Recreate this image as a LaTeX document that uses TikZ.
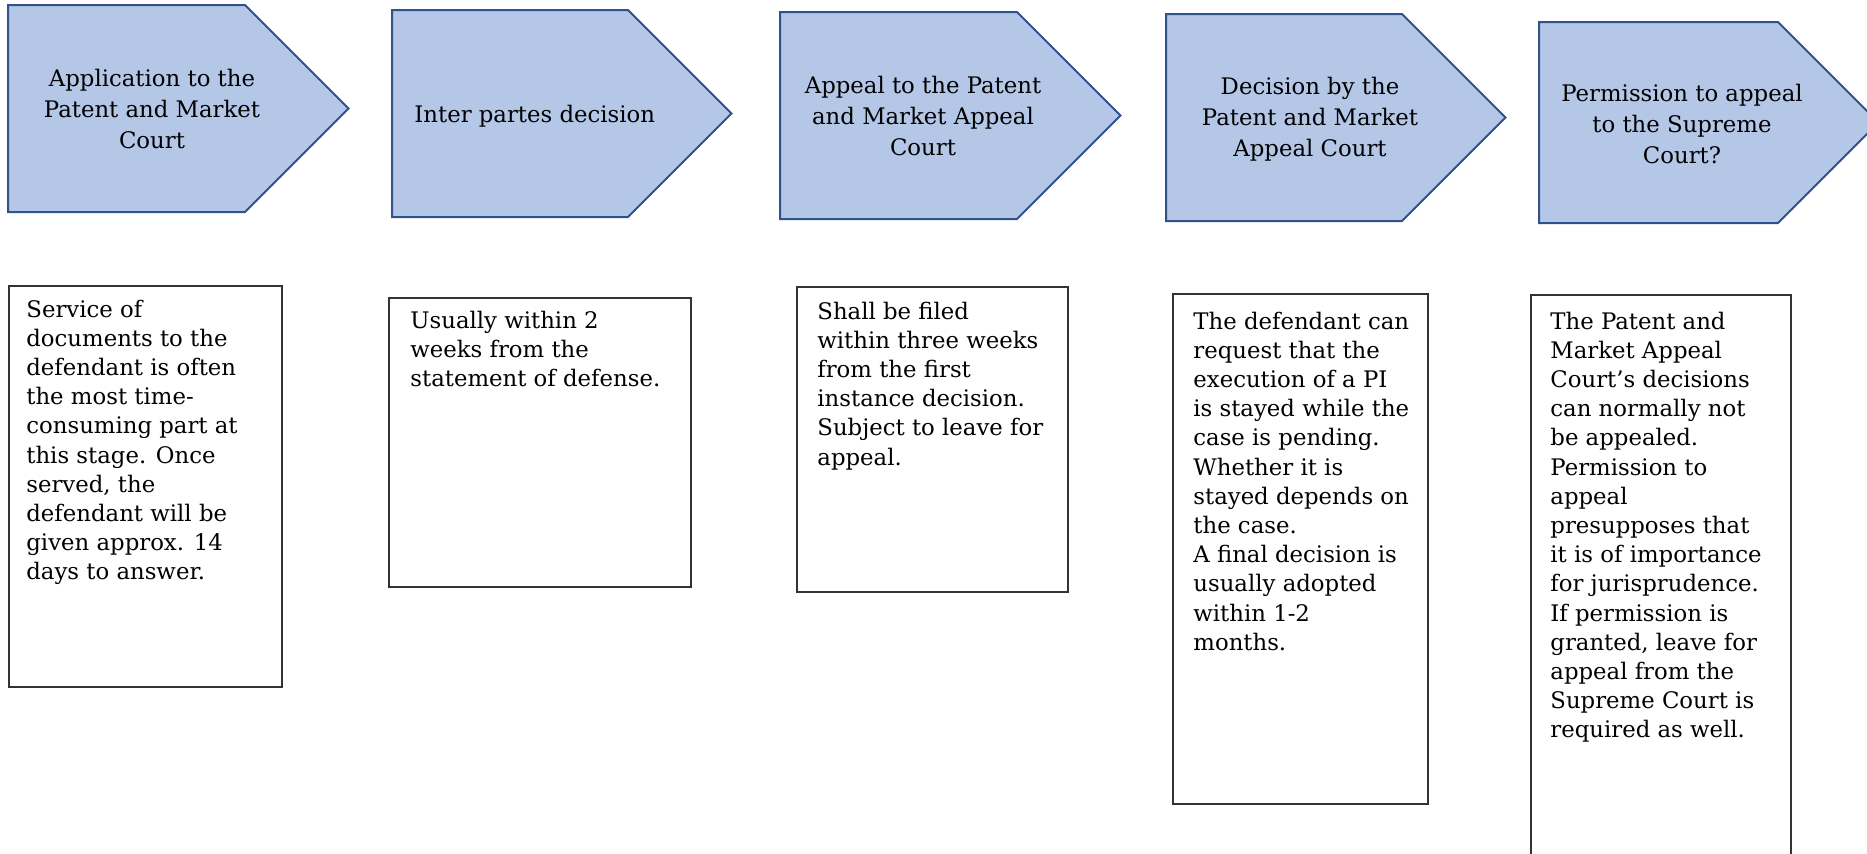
\documentclass[tikz,border=0pt]{standalone}
\usepackage{fontspec}
\setmainfont{DejaVu Serif}

\definecolor{stagefill}{HTML}{B4C7E7}
\definecolor{stageline}{HTML}{2F528F}

\tikzset{
  stage/.style={draw=stageline, fill=stagefill, line width=1pt},
  notebox/.style={draw=black!80, line width=0.6pt},
  stagetext/.style={font=\fontsize{11.4}{15.6}\selectfont, align=center, inner sep=0pt},
  notetext/.style={font=\fontsize{11.4}{14.6}\selectfont, align=left, inner sep=0pt, anchor=base west},
}

\begin{document}
\begin{tikzpicture}[x=0.5pt, y=-0.5pt]
    \useasboundingbox (0,0) rectangle (1867,853);

    % Stages along the top
    \draw[stage] (8,5) -- (245,5) -- (348.5,108.5) -- (245,212) -- (8,212) -- cycle;
    \draw[stage] (392,10) -- (628,10) -- (731.5,113.5) -- (628,217) -- (392,217) -- cycle;
    \draw[stage] (780,12) -- (1017,12) -- (1120.5,115.5) -- (1017,219) -- (780,219) -- cycle;
    \draw[stage] (1166,14) -- (1402,14) -- (1505.5,117.5) -- (1402,221) -- (1166,221) -- cycle;
    \draw[stage] (1539,22) -- (1778,22) -- (1878.5,122.5) -- (1778,223) -- (1539,223) -- cycle;

    % (base = last line of each text)
    \node[stagetext, anchor=base] (apply) at (152,148.4) {Application to the\\Patent and Market\\Court};
    \node[stagetext, anchor=base west] (interpartes) at (414,122) {Inter partes decision};
    \node[stagetext, anchor=base] (appeal) at (923,155.4) {Appeal to the Patent\\and Market Appeal\\Court};
    \node[stagetext, anchor=base] (decision) at (1310,156.4) {Decision by the\\Patent and Market\\Appeal Court};
    \node[stagetext, anchor=base] (permission) at (1682,163.4) {Permission to appeal\\to the Supreme\\Court?};

    % Notes below each stage
    \draw[notebox] (9,286) rectangle (282,687);
    \draw[notebox] (389,298) rectangle (691,587);
    \draw[notebox] (797,287) rectangle (1068,592);
    \draw[notebox] (1173,294) rectangle (1428,804);
    \draw[notebox] (1531,295) rectangle (1791,870);

    \node[notetext] (serve) at (26,579.8) {Service of\\documents to the\\defendant is often\\the most time-\\consuming part at\\this stage. Once\\served, the\\defendant will be\\given approx. 14\\days to answer.};
    \node[notetext] (weeks) at (410,386.4) {Usually within 2\\weeks from the\\statement of defense.};
    \node[notetext] (filing) at (817,465) {Shall be filed\\within three weeks\\from the first\\instance decision.\\Subject to leave for\\appeal.};
    \node[notetext] (stay) at (1193,650.2) {The defendant can\\request that the\\execution of a PI\\is stayed while the\\case is pending.\\Whether it is\\stayed depends on\\the case.\\A final decision is\\usually adopted\\within 1-2\\months.};
    \node[notetext] (leave) at (1550,737.8) {The Patent and\\Market Appeal\\Court’s decisions\\can normally not\\be appealed.\\Permission to\\appeal\\presupposes that\\it is of importance\\for jurisprudence.\\If permission is\\granted, leave for\\appeal from the\\Supreme Court is\\required as well.};

\end{tikzpicture}
\end{document}
